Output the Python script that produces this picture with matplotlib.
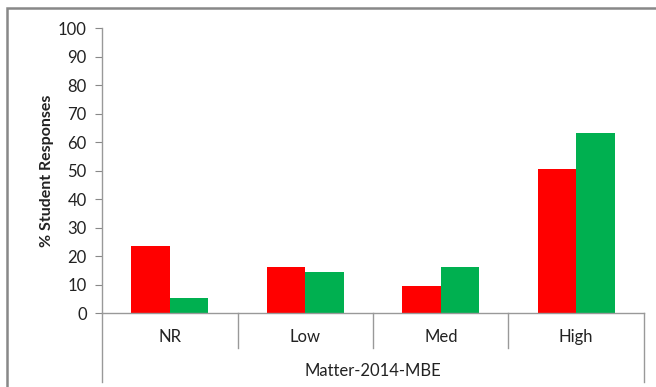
import matplotlib
matplotlib.use("Agg")
import matplotlib.pyplot as plt
from matplotlib.lines import Line2D
from matplotlib.patches import Rectangle
import matplotlib.transforms as mtransforms
import numpy as np

categories = ["NR", "Low", "Med", "High"]
group_label = "Matter-2014-MBE"
series_red = [23.5, 16.0, 9.5, 50.5]
series_green = [5.3, 14.4, 16.3, 63.3]

plt.rcParams['font.family'] = ['Lato', 'DejaVu Sans']

fig = plt.figure(figsize=(6.56, 3.87), dpi=100)
ax = fig.add_axes([0.1555, 0.1912, 0.8262, 0.7364])

x = np.arange(len(categories))
w = 0.285
ax.bar(x - w / 2, series_red, width=w, color="#FF0000", edgecolor="none")
ax.bar(x + w / 2, series_green, width=w, color="#00B050", edgecolor="none")

ax.set_xlim(-0.5, len(categories) - 0.5)
ax.set_ylim(0, 100)
ax.set_yticks(range(0, 101, 10))
ax.tick_params(axis="y", length=5, color="#888888", labelsize=12, pad=6,
               labelcolor="#222222")
ax.set_xticks([])

for side in ["top", "right"]:
    ax.spines[side].set_visible(False)
for side in ["left", "bottom"]:
    ax.spines[side].set_color("#999999")
    ax.spines[side].set_linewidth(1)

ax.set_ylabel("% Student Responses", fontsize=11.5, fontweight="bold",
              color="#222222", labelpad=3)

# multi-level category axis below the plot
trans = mtransforms.blended_transform_factory(ax.transData, ax.transAxes)
for i in range(1, len(categories)):
    ax.add_line(Line2D([i - 0.5, i - 0.5], [0, -0.123], transform=trans,
                       color="#999999", lw=1, clip_on=False))
for xe in [-0.5, len(categories) - 0.5]:
    ax.add_line(Line2D([xe, xe], [0, -0.242], transform=trans,
                       color="#999999", lw=1, clip_on=False))
for i, c in enumerate(categories):
    ax.text(i, -0.085, c, transform=trans, ha="center", va="center",
            fontsize=12, color="#222222")
ax.text((len(categories) - 1) / 2, -0.205, group_label, transform=trans,
        ha="center", va="center", fontsize=12, color="#222222")

# chart frame
fig.patches.append(Rectangle((7 / 656, -0.1), 1.2, 1 - 8 / 387 + 0.1,
                             transform=fig.transFigure, fill=False,
                             edgecolor="#888888", lw=1.8))

fig.savefig("out.png", dpi=100)
